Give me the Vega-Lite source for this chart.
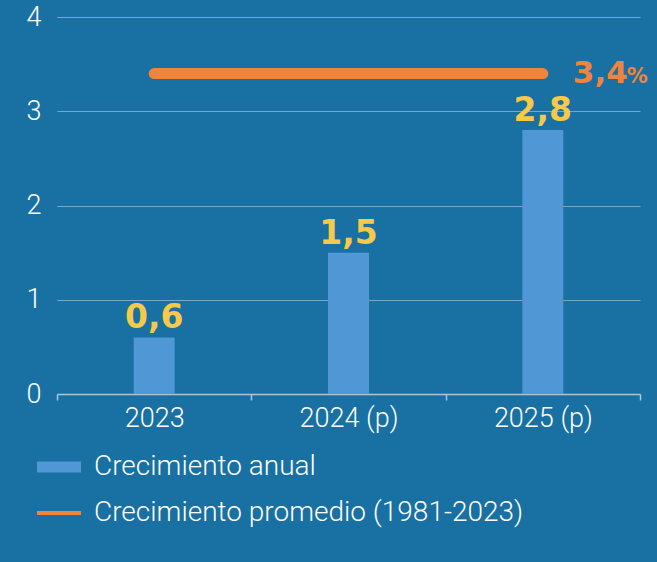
{
  "$schema": "https://vega.github.io/schema/vega-lite/v6.json",
  "autosize": "none",
  "width": 583,
  "height": 377,
  "padding": {"left": 57, "top": 17, "right": 17, "bottom": 168},
  "background": "#1870a3",
  "config": {
    "view": {"stroke": null},
    "font": "Roboto",
    "axis": {"labelFont": "Roboto", "labelFontWeight": 300, "labelColor": "#ffffff", "labelFontSize": 27, "titleColor": "#ffffff"}
  },
  "datasets": {
    "bars": [
      {"anio": "2023", "valor": 0.6, "etiqueta": "0,6", "serie": "Crecimiento anual"},
      {"anio": "2024 (p)", "valor": 1.5, "etiqueta": "1,5", "serie": "Crecimiento anual"},
      {"anio": "2025 (p)", "valor": 2.8, "etiqueta": "2,8", "serie": "Crecimiento anual"}
    ],
    "promedio": [
      {"desde": "2023", "hasta": "2025 (p)", "valor": 3.4, "etiqueta": "3,4", "pct": "%", "serie": "Crecimiento promedio (1981-2023)"}
    ]
  },
  "layer": [
    {
      "data": {"name": "bars"},
      "mark": {"type": "bar", "size": 41},
      "encoding": {
        "x": {"field": "anio", "type": "nominal", "sort": null,
          "scale": {"domain": ["2023", "2024 (p)", "2025 (p)"], "paddingInner": 0, "paddingOuter": 0},
          "axis": {"title": null, "labelAngle": 0, "tickBand": "extent", "domainColor": "#a9c6da", "domainWidth": 1.5, "tickColor": "#a9c6da", "tickWidth": 1.5, "tickSize": 6, "labelPadding": 5}},
        "y": {"field": "valor", "type": "quantitative",
          "scale": {"domain": [0, 4], "nice": false},
          "axis": {"title": null, "values": [0, 1, 2, 3, 4], "format": "d", "domain": false, "ticks": false, "labelPadding": 16, "gridColor": "#ffffff", "gridOpacity": 0.4, "gridWidth": 1}},
        "color": {"field": "serie", "type": "nominal",
          "scale": {"domain": ["Crecimiento anual", "Crecimiento promedio (1981-2023)"], "range": ["#4f98d5", "#f0843a"]},
          "legend": {"title": null, "orient": "none", "legendX": -20, "legendY": 428, "padding": 0,
            "labelFont": "Roboto", "labelFontWeight": 300, "labelFontSize": 28, "labelColor": "#ffffff", "labelLimit": 0,
            "labelOffset": 13, "rowPadding": 10, "symbolSize": 1936,
            "encode": {"symbols": {"update": {
              "shape": {"signal": "datum.value === 'Crecimiento anual' ? 'M-1,-0.25H1V0.25H-1Z' : 'M-1,-0.09H1V0.09H-1Z'"},
              "fill": {"signal": "datum.value === 'Crecimiento anual' ? '#4f98d5' : '#f0843a'"},
              "strokeWidth": {"value": 0},
              "opacity": {"value": 1}, "fillOpacity": {"value": 1}}}}}}
      }
    },
    {
      "data": {"name": "bars"},
      "mark": {"type": "text", "font": "DejaVu Sans", "fontWeight": "bold", "fontSize": 33, "color": "#f7c948", "baseline": "alphabetic", "dy": -9},
      "encoding": {
        "x": {"field": "anio", "type": "nominal", "sort": null},
        "y": {"field": "valor", "type": "quantitative"},
        "text": {"field": "etiqueta"}
      }
    },
    {
      "data": {"name": "promedio"},
      "mark": {"type": "rule", "strokeWidth": 11, "strokeCap": "round"},
      "encoding": {
        "x": {"field": "desde", "type": "nominal"},
        "x2": {"field": "hasta"},
        "y": {"field": "valor", "type": "quantitative"},
        "color": {"field": "serie", "type": "nominal"}
      }
    },
    {
      "data": {"name": "promedio"},
      "mark": {"type": "text", "font": "DejaVu Sans", "fontWeight": "bold", "fontSize": 31, "color": "#f0843a", "baseline": "alphabetic", "align": "left", "dx": 30, "dy": 9},
      "encoding": {
        "x": {"field": "hasta", "type": "nominal"},
        "y": {"field": "valor", "type": "quantitative"},
        "text": {"field": "etiqueta"}
      }
    },
    {
      "data": {"name": "promedio"},
      "mark": {"type": "text", "font": "DejaVu Sans", "fontWeight": "bold", "fontSize": 21, "color": "#f0843a", "baseline": "alphabetic", "align": "left", "dx": 84, "dy": 9},
      "encoding": {
        "x": {"field": "hasta", "type": "nominal"},
        "y": {"field": "valor", "type": "quantitative"},
        "text": {"field": "pct"}
      }
    }
  ]
}
